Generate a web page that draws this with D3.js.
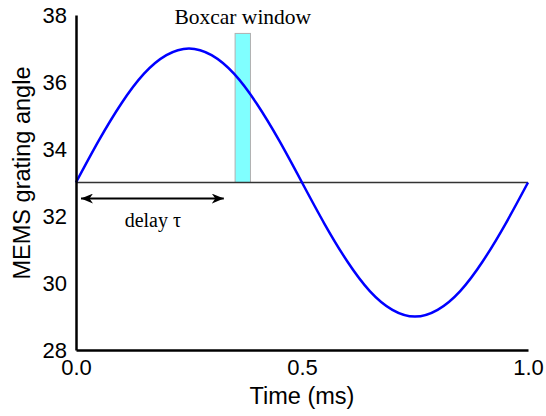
<!DOCTYPE html>
<html>
<head>
<meta charset="utf-8">
<script src="https://cdn.jsdelivr.net/npm/d3@7"></script>
<style>
  body { margin: 0; background: #fff; }
  svg { display: block; }
</style>
</head>
<body>
<svg width="546" height="416"></svg>
<script>
// MEMS grating angle (time in ms, angle)
var times  = [0, 0.05, 0.1, 0.15, 0.2, 0.25, 0.3, 0.35, 0.4, 0.45, 0.5,
              0.55, 0.6, 0.65, 0.7, 0.75, 0.8, 0.85, 0.9, 0.95, 1.0];
var angles = [33, 34.24, 35.35, 36.24, 36.8, 37.0, 36.8, 36.24, 35.35, 34.24, 33,
              31.76, 30.65, 29.76, 29.2, 29.0, 29.2, 29.76, 30.65, 31.76, 33];
var baseline = 33;
var boxcar = {x0: 0.352, x1: 0.386, top: 37.45};
var delay = {x0: 0, x1: 0.327, y: 32.52};
var xTicks = [0, 0.5, 1.0];
var yTicks = [28, 30, 32, 34, 36, 38];

var svg = d3.select("svg"),
    margin = {top: 15, right: 18, bottom: 66, left: 76},
    width = svg.attr("width") - margin.left - margin.right,
    height = svg.attr("height") - margin.top - margin.bottom,
    g = svg.append("g").attr("transform", "translate(" + margin.left + "," + margin.top + ")");

var x = d3.scaleLinear().domain([0, 1]).range([0, width]),
    y = d3.scaleLinear().domain([28, 38]).range([height, 0]);

var data = times.map(function(t, i) { return {t: t, v: angles[i]}; });

// boxcar window
g.append("rect")
    .attr("x", x(boxcar.x0))
    .attr("y", y(boxcar.top))
    .attr("width", x(boxcar.x1) - x(boxcar.x0))
    .attr("height", y(baseline) - y(boxcar.top))
    .attr("fill", "#80ffff")
    .attr("stroke", "#b0b0b0")
    .attr("stroke-width", 1);

g.append("text")
    .attr("x", x((boxcar.x0 + boxcar.x1) / 2))
    .attr("y", 8.5)
    .attr("text-anchor", "middle")
    .style("font", "21.5px 'Liberation Serif', serif")
    .text("Boxcar window");

// baseline at 33
g.append("line")
    .attr("x1", x(0)).attr("x2", x(1))
    .attr("y1", y(baseline)).attr("y2", y(baseline))
    .attr("stroke", "#333")
    .attr("stroke-width", 1.5);

// sine curve
var line = d3.line()
    .x(function(d) { return x(d.t); })
    .y(function(d) { return y(d.v); })
    .curve(d3.curveNatural);

g.append("path")
    .datum(data)
    .attr("d", line)
    .attr("fill", "none")
    .attr("stroke", "#0000ff")
    .attr("stroke-width", 2.5);

// delay arrow
var defs = svg.append("defs");
defs.append("marker")
    .attr("id", "head")
    .attr("viewBox", "0 0 12 10")
    .attr("refX", 12).attr("refY", 5)
    .attr("markerWidth", 12).attr("markerHeight", 10)
    .attr("markerUnits", "userSpaceOnUse")
    .attr("orient", "auto-start-reverse")
  .append("path")
    .attr("d", "M0,0 L12,5 L0,10 L3.5,5 Z")
    .attr("fill", "#000");

g.append("line")
    .attr("x1", x(delay.x0) + 5).attr("x2", x(delay.x1))
    .attr("y1", y(delay.y)).attr("y2", y(delay.y))
    .attr("stroke", "#000")
    .attr("stroke-width", 2)
    .attr("marker-start", "url(#head)")
    .attr("marker-end", "url(#head)");

g.append("text")
    .attr("x", x(0.17))
    .attr("y", y(delay.y) + 28)
    .attr("text-anchor", "middle")
    .style("font", "20px 'Liberation Serif', serif")
    .text("delay τ");

// axes
var xAxis = g.append("g")
    .attr("transform", "translate(0," + height + ")")
    .call(d3.axisBottom(x).tickValues(xTicks).tickFormat(d3.format(".1f")).tickSize(0).tickPadding(9));
var yAxis = g.append("g")
    .call(d3.axisLeft(y).tickValues(yTicks).tickSize(0).tickPadding(9));

[xAxis, yAxis].forEach(function(a) {
  a.attr("font-size", 22).attr("font-family", "'Liberation Sans', Arial, sans-serif");
  a.select(".domain").attr("stroke", "#000").attr("stroke-width", 2.5);
  a.selectAll("text").attr("fill", "#000");
});

svg.append("text")
    .attr("x", margin.left + width / 2)
    .attr("y", 404)
    .attr("text-anchor", "middle")
    .style("font", "23.5px 'Liberation Sans', Arial, sans-serif")
    .text("Time (ms)");

svg.append("text")
    .attr("transform", "translate(30," + 173 + ") rotate(-90)")
    .attr("text-anchor", "middle")
    .style("font", "23.5px 'Liberation Sans', Arial, sans-serif")
    .text("MEMS grating angle");
</script>
</body>
</html>
